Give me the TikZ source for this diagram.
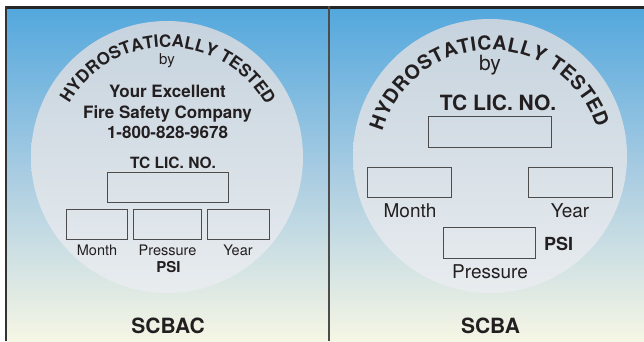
\documentclass[tikz,border=0pt]{standalone}
\usepackage{fontspec}
\setmainfont{TeX Gyre Heros}
\usetikzlibrary{decorations.text, positioning}

\definecolor{skyblue}{HTML}{52A7DD}
\definecolor{midblue}{HTML}{A9CCE2}
\definecolor{cream}{HTML}{F6F6E4}
\definecolor{discdark}{HTML}{C6D3DE}
\definecolor{disclight}{HTML}{E8ECEF}
\definecolor{ink}{HTML}{231F20}

\newcommand{\sz}[1]{\fontsize{#1}{#1}\selectfont}
\newcommand{\arcfontsmall}{\bfseries\fontsize{17}{17}\selectfont}
\newcommand{\arcfontbig}{\bfseries\fontsize{19.5}{19.5}\selectfont}

\tikzset{
  field/.style={draw=black!70, line width=0.8pt, inner sep=0pt},
  word/.style={text=ink, inner sep=0pt, anchor=base},
}

\begin{document}
\begin{tikzpicture}[x=1pt, y=-1pt]
	\useasboundingbox (0,0) rectangle (644,341);
	\def\RL{136} % left disc radius
	\def\RR{137} % right disc radius
	
	% Background
	\fill[white] (0,0) rectangle (644,341);
	\shade[top color=skyblue, bottom color=cream, middle color=midblue] (5,6) rectangle (644,341);
	
	% Frame
	\draw[line width=3pt, black!85] (5,7.5) -- (644,7.5);
	\draw[line width=2pt, black!80] (6,6) -- (6,341);
	\draw[line width=2pt, black!70] (329,6) -- (329,341);
	
	% Discs
	\coordinate (lc) at (167,157);
	\coordinate (rc) at (490,156);
	\shade[top color=discdark, bottom color=disclight] (lc) circle (\RL);
	\shade[top color=discdark, bottom color=disclight] (rc) circle (\RR);
	
	% Left label: SCBAC
	\path[decorate, decoration={text along path, text align={fit to path}, text color=ink,
		text={|\arcfontsmall|HYDROSTATICALLY TESTED}}]
		(167,160) ++(-150:113) arc (-150:-30:113);
	\node[word, font=\sz{15}] (lby) at (167,64) {by};
	\node[word, font=\bfseries\sz{17}] (firm1) at (167.5,97) {Your Excellent};
	\node[word, font=\bfseries\sz{17}] (firm2) at (167.5,118) {Fire Safety Company};
	\node[word, font=\bfseries\sz{17}] (firm3) at (167.5,138) {1-800-828-9678};
	\node[word, font=\bfseries\sz{15.5}] (llictxt) at (173,168) {TC LIC. NO.};
	
	\node[field, minimum width=121pt, minimum height=30pt] (llic) at (167.5,187) {};
	\node[field, minimum width=61pt, minimum height=30pt] (lmon) at (96.5,224) {};
	\node[field, minimum width=68pt, minimum height=30pt] (lpre) at (167,224) {};
	\node[field, minimum width=62pt, minimum height=30pt] (lyr) at (238,224) {};
	
	\node[word, font=\sz{14.5}] (lmontxt) at (97,255) {Month};
	\node[word, font=\sz{14.5}] (lpretxt) at (167.5,255) {Pressure};
	\node[word, font=\sz{14.5}] (lyrtxt) at (238,255) {Year};
	\node[word, font=\bfseries\sz{15}] (lpsi) at (168.5,272) {PSI};
	\node[word, font=\bfseries\sz{21}] (lname) at (168,333) {SCBAC};
	
	% Right label: SCBA
	\path[decorate, decoration={text along path, text align={fit to path}, text color=ink,
		text={|\arcfontbig|HYDROSTATICALLY TESTED}}]
		(490,162) ++(-164:112) arc (-164:-18:112);
	\node[word, font=\sz{21}] (rby) at (490,70) {by};
	\node[word, font=\bfseries\sz{21}] (rlictxt) at (498,110) {TC LIC. NO.};
	
	\node[field, minimum width=123pt, minimum height=31pt] (rlic) at (489.5,131.5) {};
	\node[field, minimum width=84pt, minimum height=30pt] (rmon) at (409,182) {};
	\node[field, minimum width=84pt, minimum height=30pt] (ryr) at (570,182) {};
	\node[field, minimum width=92pt, minimum height=31pt] (rpre) at (489,242.5) {};
	
	\node[word, font=\sz{19}] (rmontxt) at (410,217) {Month};
	\node[word, font=\sz{19}] (ryrtxt) at (570,217) {Year};
	\node[word, font=\bfseries\sz{18}] (rpsi) at (558.5,250) {PSI};
	\node[word, font=\sz{19}] (rpretxt) at (490,278) {Pressure};
	\node[word, font=\bfseries\sz{21}] (rname) at (490.5,333) {SCBA};
\end{tikzpicture}
\end{document}
